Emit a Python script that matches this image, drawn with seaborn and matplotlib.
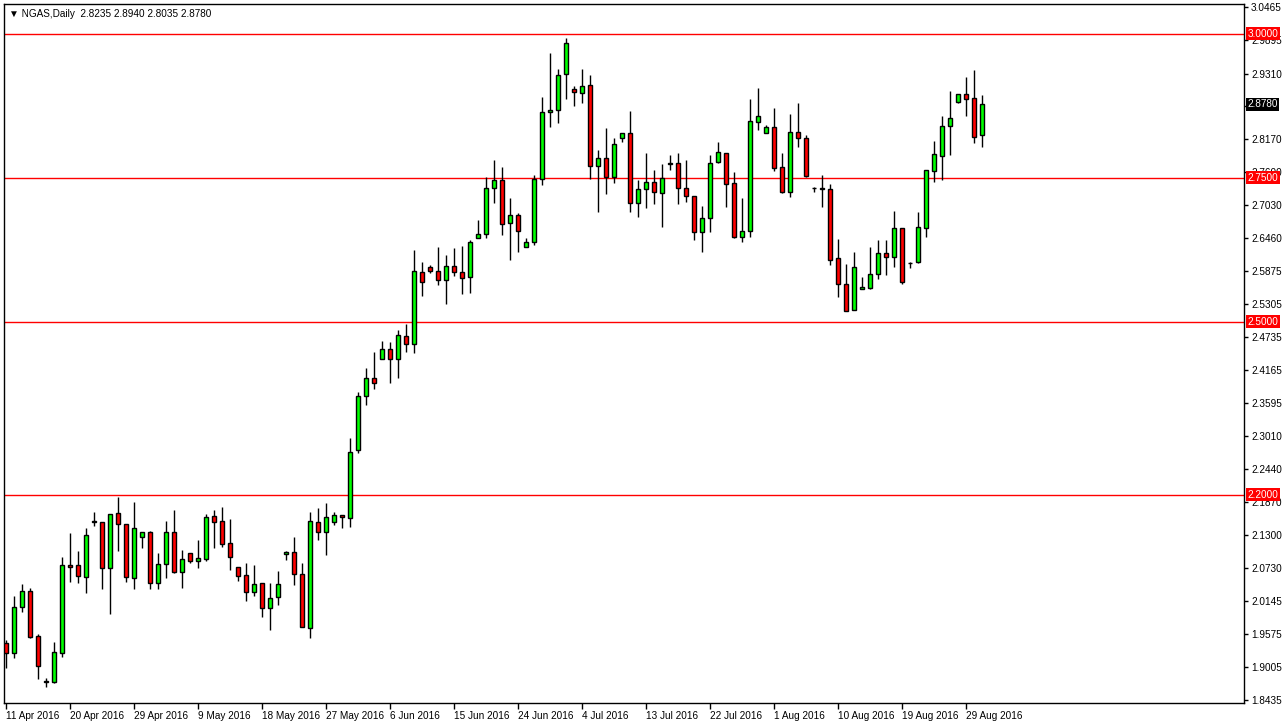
import numpy as np
import pandas as pd
import seaborn as sns
import matplotlib
matplotlib.use("Agg")
import matplotlib.pyplot as plt

opens = [1.942,1.925,2.005,2.033,1.954,1.875,1.875,1.925,2.078,2.078,2.057,2.152,2.152,2.073,2.168,2.149,2.055,2.126,2.135,2.047,
         2.080,2.135,2.066,2.099,2.085,2.088,2.163,2.154,2.116,2.074,2.060,2.031,2.047,2.003,2.022,2.097,2.100,2.062,1.968,2.152,
         2.135,2.152,2.165,2.159,2.277,2.371,2.402,2.435,2.453,2.435,2.475,2.462,2.586,2.595,2.588,2.573,2.597,2.586,2.578,2.646,
         2.652,2.732,2.746,2.672,2.685,2.630,2.639,2.748,2.864,2.868,2.930,2.904,2.897,2.911,2.770,2.784,2.751,2.819,2.828,2.706,
         2.731,2.743,2.724,2.774,2.776,2.732,2.718,2.656,2.680,2.777,2.793,2.741,2.647,2.658,2.847,2.828,2.838,2.769,2.725,2.830,
         2.819,2.732,2.731,2.731,2.611,2.566,2.521,2.557,2.559,2.583,2.619,2.613,2.663,2.602,2.604,2.663,2.762,2.788,2.840,2.882,
         2.896,2.889,2.8235]
highs = [1.948,2.024,2.045,2.038,1.958,1.882,1.944,2.092,2.133,2.102,2.142,2.170,2.152,2.166,2.196,2.149,2.187,2.135,2.137,2.099,
         2.154,2.173,2.104,2.099,2.121,2.166,2.173,2.179,2.158,2.074,2.081,2.078,2.047,2.047,2.067,2.102,2.126,2.081,2.170,2.177,
         2.185,2.170,2.165,2.298,2.378,2.420,2.448,2.467,2.465,2.486,2.496,2.625,2.604,2.599,2.630,2.616,2.628,2.632,2.642,2.677,
         2.751,2.781,2.769,2.715,2.689,2.646,2.755,2.890,2.967,2.939,2.993,2.909,2.939,2.928,2.798,2.836,2.819,2.828,2.866,2.746,
         2.793,2.764,2.774,2.790,2.793,2.781,2.718,2.701,2.790,2.812,2.793,2.760,2.715,2.887,2.906,2.842,2.871,2.793,2.861,2.880,
         2.824,2.734,2.755,2.739,2.644,2.600,2.621,2.578,2.630,2.642,2.642,2.692,2.663,2.604,2.691,2.764,2.814,2.857,2.901,2.896,
         2.925,2.937,2.8940]
lows = [1.899,1.916,1.996,1.951,1.880,1.866,1.873,1.918,2.048,2.047,2.029,2.146,2.036,1.993,2.102,2.048,2.036,2.107,2.036,2.036,
        2.055,2.064,2.038,2.081,2.073,2.085,2.107,2.109,2.069,2.050,2.015,2.024,1.987,1.965,2.008,2.086,2.043,1.970,1.951,2.121,
        2.095,2.147,2.142,2.144,2.272,2.356,2.383,2.435,2.394,2.402,2.448,2.446,2.545,2.585,2.564,2.531,2.580,2.548,2.550,2.646,
        2.646,2.706,2.651,2.607,2.621,2.630,2.633,2.738,2.838,2.845,2.887,2.875,2.880,2.748,2.691,2.722,2.741,2.812,2.691,2.682,
        2.698,2.705,2.665,2.764,2.705,2.708,2.642,2.621,2.656,2.776,2.699,2.646,2.639,2.647,2.833,2.828,2.762,2.724,2.717,2.803,
        2.751,2.725,2.699,2.599,2.543,2.519,2.521,2.557,2.557,2.574,2.581,2.595,2.566,2.593,2.602,2.647,2.743,2.746,2.790,2.880,
        2.857,2.810,2.8035]
closes = [1.925,2.005,2.033,1.953,1.902,1.876,1.927,2.078,2.074,2.059,2.130,2.154,2.073,2.166,2.149,2.057,2.142,2.135,2.047,2.080,
          2.135,2.066,2.088,2.085,2.090,2.161,2.152,2.114,2.092,2.059,2.031,2.045,2.003,2.020,2.045,2.100,2.062,1.970,2.154,2.135,
          2.161,2.165,2.161,2.274,2.371,2.402,2.394,2.453,2.435,2.477,2.462,2.588,2.569,2.588,2.573,2.597,2.586,2.576,2.639,2.652,
          2.732,2.746,2.670,2.685,2.658,2.639,2.748,2.864,2.868,2.928,2.984,2.899,2.909,2.770,2.784,2.751,2.809,2.828,2.706,2.731,
          2.743,2.725,2.750,2.775,2.732,2.718,2.656,2.680,2.776,2.795,2.739,2.647,2.658,2.849,2.857,2.838,2.767,2.725,2.830,2.819,
          2.753,2.732,2.731,2.607,2.566,2.519,2.595,2.560,2.583,2.619,2.613,2.663,2.569,2.602,2.665,2.764,2.791,2.840,2.854,2.896,
          2.887,2.821,2.8780]

date_labels = ["11 Apr 2016","20 Apr 2016","29 Apr 2016","9 May 2016","18 May 2016","27 May 2016","6 Jun 2016",
               "15 Jun 2016","24 Jun 2016","4 Jul 2016","13 Jul 2016","22 Jul 2016","1 Aug 2016","10 Aug 2016",
               "19 Aug 2016","29 Aug 2016"]
price_ticks = [3.0465,2.9895,2.9310,2.8740,2.8170,2.7600,2.7030,2.6460,2.5875,2.5305,2.4735,2.4165,2.3595,
               2.3010,2.2440,2.1870,2.1300,2.0730,2.0145,1.9575,1.9005,1.8435]
levels = [3.0, 2.75, 2.5, 2.2]
title = "NGAS,Daily  2.8235 2.8940 2.8035 2.8780"

df = pd.DataFrame({"o": opens, "h": highs, "l": lows, "c": closes})
df["x"] = np.arange(len(df))

sns.set_theme(style="white")
plt.rcParams['font.family'] = ['Liberation Sans', 'DejaVu Sans']
FS = 7.2

W, H = 1286, 726
fig = plt.figure(figsize=(W/100, H/100), dpi=100)
ax = fig.add_axes([4/W, 1-703/H, (1244-4)/W, (703-4)/H])
ax.set_facecolor("white")

ax.vlines(df["x"], df["l"], df["h"], color="black", lw=1, zorder=3)
up = df["c"] >= df["o"]
body_bottom = np.minimum(df["o"], df["c"])
body_h = np.maximum(np.abs(df["c"] - df["o"]), 0.0004)
colors = np.where(up, "#00FF00", "#FF0000")
ax.bar(df["x"], body_h, bottom=body_bottom, width=0.62, color=colors,
       edgecolor="black", linewidth=1, zorder=4)

for lv in levels:
    ax.axhline(lv, color="#FF0000", lw=1, zorder=2)

ax.set_xlim(-0.25, (1244-6)/8)
ax.set_ylim(3.0465 - (703-7)/576, 3.0465 + 3/576)

ax.yaxis.tick_right()
ax.set_yticks(price_ticks)
ax.set_yticklabels(["" if abs(t - closes[-1]) < 0.005 else f"{t:.4f}" for t in price_ticks])
ax.tick_params(axis="y", direction="out", length=3, width=1, colors="black",
               labelsize=FS, pad=2, right=True, left=False)
ax.set_xticks(np.arange(len(date_labels)) * 8)
ax.set_xticklabels(date_labels)
ax.tick_params(axis="x", direction="out", length=4, width=1, colors="black",
               labelsize=FS, pad=2, bottom=True)
for lab in ax.get_xticklabels():
    lab.set_horizontalalignment("left")
for s in ax.spines.values():
    s.set_color("black"); s.set_linewidth(1)

for lv in levels:
    ax.annotate(f"{lv:.4f}", xy=(1.0, lv), xycoords=("axes fraction", "data"),
                xytext=(2.5, 0), textcoords="offset points", va="center", ha="left",
                fontsize=FS, color="white", zorder=10, annotation_clip=False,
                bbox=dict(boxstyle="square,pad=0.15", fc="#FF0000", ec="none"))
ax.annotate(f"{closes[-1]:.4f}", xy=(1.0, closes[-1]), xycoords=("axes fraction", "data"),
            xytext=(2.5, 0), textcoords="offset points", va="center", ha="left",
            fontsize=FS, color="white", zorder=10, annotation_clip=False,
            bbox=dict(boxstyle="square,pad=0.15", fc="black", ec="none"))

ax.text(0.004, 0.993, "▼ " + title, transform=ax.transAxes, va="top", ha="left",
        fontsize=FS, color="black")

fig.savefig("out.png", dpi=100, facecolor="white")
